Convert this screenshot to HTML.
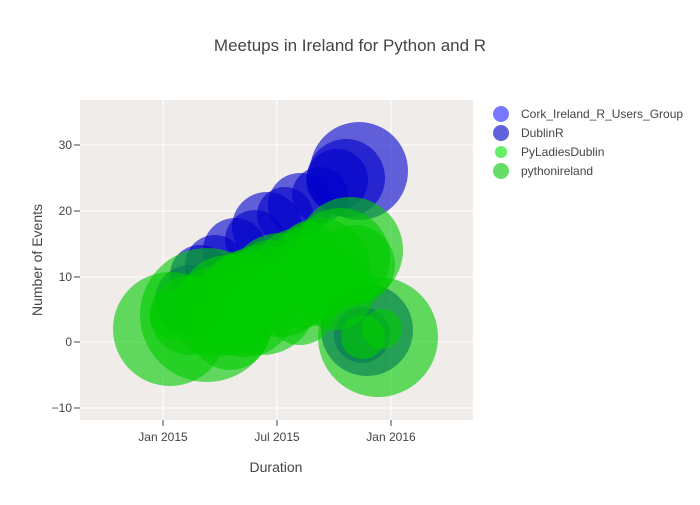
<!DOCTYPE html>
<html><head><meta charset="utf-8"><style>body{margin:0;background:#fff}text{font-family:"Liberation Sans",sans-serif}</style></head><body>
<svg width="700" height="500" xmlns="http://www.w3.org/2000/svg">
<rect width="700" height="500" fill="#fff"/>
<rect x="80" y="100" width="393" height="320" fill="#efecea"/>
<defs><clipPath id="c"><rect x="80" y="100" width="393" height="320"/></clipPath></defs>
<g stroke="#fff" stroke-width="1">
<line x1="80" x2="473" y1="145" y2="145"/><line x1="80" x2="473" y1="211" y2="211"/><line x1="80" x2="473" y1="277" y2="277"/><line x1="80" x2="473" y1="342" y2="342"/><line x1="80" x2="473" y1="408" y2="408"/>
<line x1="163" x2="163" y1="100" y2="420"/><line x1="277" x2="277" y1="100" y2="420"/><line x1="391" x2="391" y1="100" y2="420"/>
</g>
<g clip-path="url(#c)">
<g fill="#0000cc" fill-opacity="0.6">
<circle cx="359" cy="171" r="49"/><circle cx="346" cy="178" r="39"/><circle cx="337" cy="180" r="31"/><circle cx="320" cy="195" r="28"/>
<circle cx="300" cy="205" r="32"/><circle cx="285" cy="215" r="28"/><circle cx="267" cy="227" r="35"/><circle cx="255" cy="240" r="30"/>
<circle cx="235" cy="250" r="32"/><circle cx="215" cy="265" r="30"/><circle cx="200" cy="275" r="30"/><circle cx="367" cy="330" r="46"/><circle cx="362" cy="335" r="28"/><circle cx="190" cy="300" r="35"/>
</g>
<g fill="#00cc00" fill-opacity="0.6">
<circle cx="170" cy="329" r="57"/><circle cx="207" cy="315" r="67"/><circle cx="378" cy="337" r="60"/><circle cx="350" cy="250" r="53"/>
<circle cx="340" cy="258" r="50"/><circle cx="320" cy="268" r="50"/><circle cx="300" cy="278" r="50"/><circle cx="280" cy="285" r="52"/>
<circle cx="262" cy="300" r="55"/><circle cx="245" cy="305" r="52"/><circle cx="228" cy="305" r="50"/><circle cx="215" cy="312" r="45"/>
<circle cx="190" cy="315" r="40"/><circle cx="175" cy="315" r="25"/><circle cx="300" cy="310" r="35"/><circle cx="335" cy="290" r="40"/>
<circle cx="355" cy="265" r="40"/><circle cx="270" cy="275" r="35"/><circle cx="245" cy="290" r="40"/><circle cx="382" cy="329" r="20"/><circle cx="363" cy="337" r="22"/>
<circle cx="310" cy="250" r="28"/><circle cx="230" cy="330" r="40"/>
</g>
</g>
<g fill="#444" font-size="12" text-anchor="end">
<text x="72" y="149">30</text><text x="72" y="215">20</text><text x="72" y="281">10</text><text x="72" y="346">0</text><text x="72" y="412">−10</text>
</g>
<g stroke="#444"><line x1="74" x2="80" y1="145" y2="145"/><line x1="74" x2="80" y1="211" y2="211"/><line x1="74" x2="80" y1="277" y2="277"/><line x1="74" x2="80" y1="342" y2="342"/><line x1="74" x2="80" y1="408" y2="408"/>
<line x1="163" x2="163" y1="420" y2="426"/><line x1="277" x2="277" y1="420" y2="426"/><line x1="391" x2="391" y1="420" y2="426"/></g>
<g fill="#444" font-size="12" text-anchor="middle">
<text x="163" y="441">Jan 2015</text><text x="277" y="441">Jul 2015</text><text x="391" y="441">Jan 2016</text>
</g>
<text x="350" y="51" text-anchor="middle" font-size="17" fill="#444">Meetups in Ireland for Python and R</text>
<text x="276" y="472" text-anchor="middle" font-size="14" fill="#444">Duration</text>
<text transform="translate(42,260) rotate(-90)" text-anchor="middle" font-size="14" fill="#444">Number of Events</text>
<g font-size="12" fill="#444">
<circle cx="501" cy="114" r="8" fill="#7777ff"/><text x="521" y="118">Cork_Ireland_R_Users_Group</text>
<circle cx="501" cy="133" r="8" fill="#6262dd"/><text x="521" y="137">DublinR</text>
<circle cx="501" cy="152" r="6" fill="#66ee66"/><text x="521" y="156">PyLadiesDublin</text>
<circle cx="501" cy="171" r="8" fill="#66dd66"/><text x="521" y="175">pythonireland</text>
</g>
</svg>
</body></html>
